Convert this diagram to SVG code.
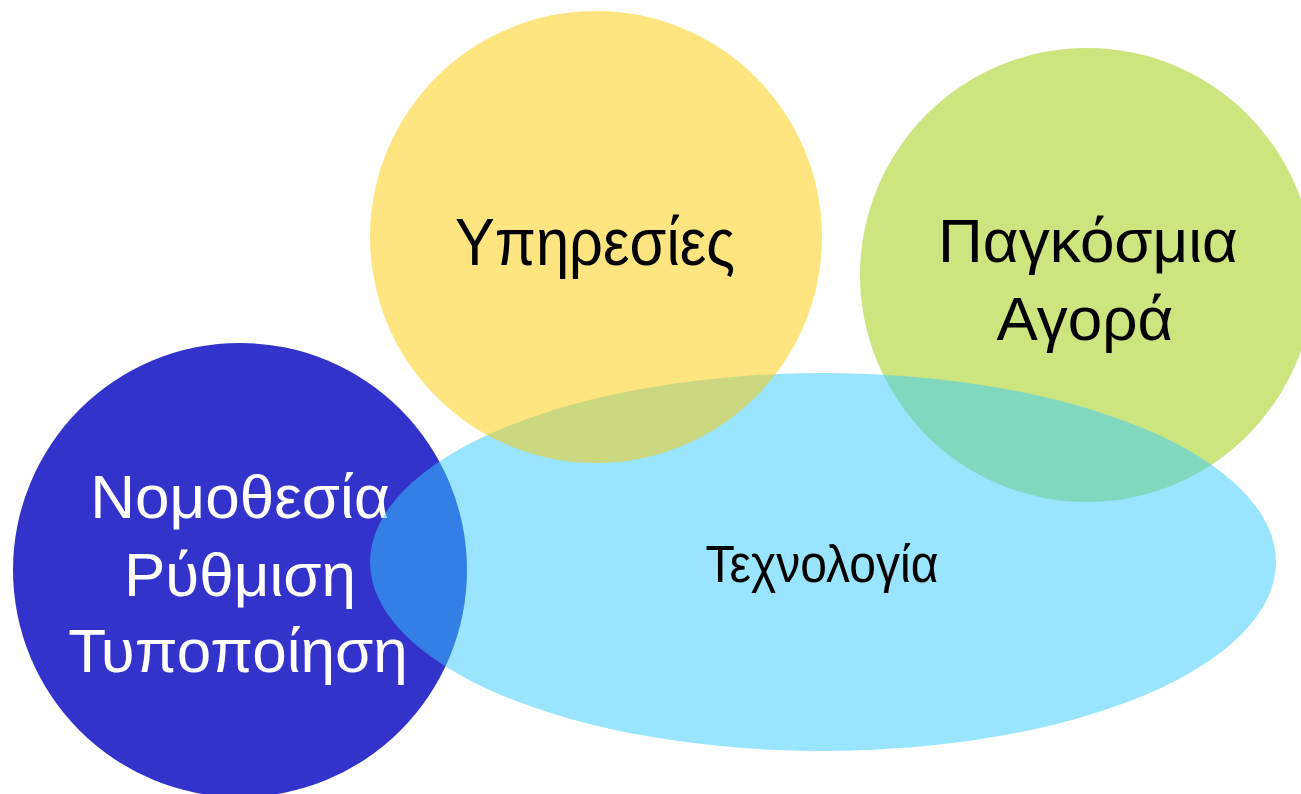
<svg xmlns="http://www.w3.org/2000/svg" width="1301" height="794" viewBox="0 0 1301 794">
<style>
text { font-family: "Liberation Sans", "DejaVu Sans", sans-serif; text-anchor: middle; }
.dark { fill: #000000; }
.light { fill: #ffffff; }
</style>
<rect width="1301" height="794" fill="#ffffff"/>
<g id="node-nomothesia">
  <circle cx="240" cy="570" r="227" fill="#3333cc"/>
  <text class="light" x="240" y="518" font-size="62">Νομοθεσία</text>
  <text class="light" x="240" y="596" font-size="62">Ρύθμιση</text>
  <text class="light" x="238" y="672" font-size="62">Τυποποίηση</text>
</g>
<g id="node-agora">
  <circle cx="1087" cy="275" r="227" fill="#99cc00" fill-opacity="0.5"/>
</g>
<g id="node-technologia">
  <ellipse cx="823" cy="562" rx="453" ry="189" fill="#33ccff" fill-opacity="0.5"/>
  <text class="dark" x="822" y="582" font-size="51" textLength="233" lengthAdjust="spacingAndGlyphs">Τεχνολογία</text>
</g>
<g id="node-agora-label">
  <text class="dark" x="1088" y="262" font-size="62">Παγκόσμια</text>
  <text class="dark" x="1085" y="340" font-size="62">Αγορά</text>
</g>
<g id="node-ypiresies">
  <circle cx="596" cy="237" r="226" fill="#ffcc00" fill-opacity="0.5"/>
  <text class="dark" x="595" y="265" font-size="66" textLength="280" lengthAdjust="spacingAndGlyphs">Υπηρεσίες</text>
</g>
<g id="connectors"></g>
</svg>
